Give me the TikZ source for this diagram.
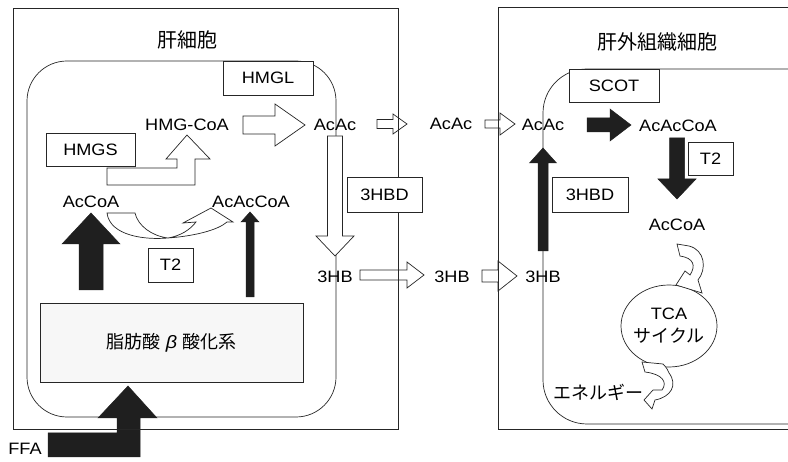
\documentclass[tikz,border=0pt]{standalone}
\usepackage{fontspec}
\setmainfont{Liberation Sans}[FakeStretch=1.1]
\newfontfamily\jp{Noto Sans CJK JP}
\newcommand\hblock[7][]{%
  \draw[#1] (#3,{#2-#6}) -- (#4,{#2-#6}) -- (#4,{#2-#7}) -- (#5,#2) -- (#4,{#2+#7}) -- (#4,{#2+#6}) -- (#3,{#2+#6}) -- cycle;}
\newcommand\vblock[7][]{%
  \draw[#1] ({#2-#6},#3) -- ({#2-#6},#4) -- ({#2-#7},#4) -- (#2,#5) -- ({#2+#7},#4) -- ({#2+#6},#4) -- ({#2+#6},#3) -- cycle;}
\tikzset{
  ln/.style={draw=black!85, line width=0.7pt},
  hollowarr/.style={draw=black!85, fill=white, line width=0.7pt, line join=miter},
  blkarr/.style={draw=black!88, fill=black!88, line width=0.5pt, line join=miter},
  lbl/.style={inner sep=0pt, font=\fontsize{16.5}{18}\selectfont},
  jplbl/.style={inner sep=0pt, font=\jp\fontsize{18}{20}\selectfont},
  titl/.style={inner sep=0pt, font=\jp\fontsize{20}{22}\selectfont},
  boxn/.style={draw=black!85, fill=white, line width=0.7pt, inner sep=0pt, font=\fontsize{16.5}{18}\selectfont},
}
\begin{document}
\begin{tikzpicture}[x=1pt,y=-1pt]
\useasboundingbox (0,0) rectangle (788,462);
\clip (0,0) rectangle (788,462);
\fill[white] (0,0) rectangle (788,462);
% membranes
\draw[ln, rounded corners=40pt] (27,61) rectangle (336,417);
\draw[ln, rounded corners=44pt] (543,69) rectangle (830,424);
% TCA circle
\draw[ln] (669,326) ellipse [x radius=48, y radius=41];
% hollow arrows
\hblock[hollowarr]{125}{243}{275}{305}{9}{21}
\hblock[hollowarr]{124}{377}{393}{407}{4.5}{10}
\hblock[hollowarr]{124}{485}{500}{515}{4}{11}
\hblock[hollowarr]{275}{360}{407}{424}{5}{13}
\hblock[hollowarr]{276}{482}{498}{517}{6}{15}
\vblock[hollowarr]{335}{136}{236}{256}{7.5}{19}
\draw[hollowarr] (107,168) -- (177,168) -- (177,159) -- (166,159) -- (187,135) -- (210,159) -- (195,159) -- (195,185) -- (107,185) -- cycle;
% twisted curved arrow AcCoA -> AcAcCoA
\draw[hollowarr] (107,213) .. controls (110,236) and (145,240) .. (168,238)
  .. controls (195,236) and (218,230) .. (227,222) -- (233,222) -- (211,208) -- (183,223) -- (196,222)
  .. controls (190,230) and (180,236) .. (168,238) .. controls (152,236) and (138,226) .. (135,213) -- cycle;
% TCA in-arrow
\draw[hollowarr] (677,244) -- (689,246) .. controls (705,250) and (707,269) .. (698,280)
  -- (702,293) -- (676,285) -- (685,271) -- (690,275) .. controls (696,266) and (694,258) .. (680,256) -- cycle;
% energy arrow
\draw[hollowarr] (642,362) -- (645,372) .. controls (662,374) and (668,382) .. (662,390)
  -- (653,390) -- (644,400) -- (652,409) -- (655,400) .. controls (671,397) and (678,385) .. (669,373)
  .. controls (667,368) and (665,366) .. (663,364) -- cycle;
% black arrows
\hblock[blkarr]{125}{587}{610}{631}{7}{16}
\vblock[blkarr]{677}{138}{179}{199}{7.5}{19}
\vblock[blkarr]{543}{251}{163}{148}{5}{13.5}
\vblock[blkarr]{91}{290}{244}{213}{12}{29}
\vblock[blkarr]{250}{297}{222}{212}{4}{9}
\draw[blkarr] (48,433) -- (117,433) -- (117,418) -- (98,418) -- (128,386) -- (157,418) -- (140,418) -- (140,457) -- (48,457) -- cycle;
% outer cells
\draw[ln] (13,8) rectangle (398,429);
\draw[ln] (830,7) -- (498,7) -- (498,429) -- (830,429);
% boxes
\node[boxn, minimum width=90pt, minimum height=34pt] (hmgl) at (268,78) {HMGL};
\node[boxn, minimum width=89pt, minimum height=33pt] (hmgs) at (90.5,149.5) {HMGS};
\node[boxn, minimum width=45pt, minimum height=34pt] (t2a) at (170.5,265) {T2};
\node[boxn, minimum width=75pt, minimum height=35pt] (hbda) at (384.5,194.5) {3HBD};
\node[boxn, minimum width=90pt, minimum height=33pt] (scot) at (614,85.5) {SCOT};
\node[boxn, minimum width=45pt, minimum height=33pt] (t2b) at (710.5,158.5) {T2};
\node[boxn, minimum width=76pt, minimum height=35pt] (hbdb) at (590,194.5) {3HBD};
\node[draw=black!85, fill=black!3, line width=0.7pt, inner sep=0pt, minimum width=263pt, minimum height=79pt, font=\jp\fontsize{18}{20}\selectfont] (beta) at (171.5,342.5) {脂肪酸\hspace{5pt}{\rmfamily\itshape β}\hspace{5pt}酸化系};
% titles
\node[titl] (liver) at (187,40) {肝細胞};
\node[titl] (extra) at (657,42) {肝外組織細胞};
% labels
\node[lbl] (hmgcoa) at (187,125) {HMG-CoA};
\node[lbl] (acac1) at (335,125) {AcAc};
\node[lbl] (acac2) at (451,124) {AcAc};
\node[lbl] (acac3) at (543,125) {AcAc};
\node[lbl] (accoa1) at (91,202) {AcCoA};
\node[lbl] (acaccoa1) at (251,202) {AcAcCoA};
\node[lbl] (hb1) at (335,277) {3HB};
\node[lbl] (hb2) at (452,277) {3HB};
\node[lbl] (hb3) at (543,277) {3HB};
\node[lbl] (acaccoa2) at (678,126) {AcAcCoA};
\node[lbl] (accoa2) at (677,225) {AcCoA};
\node[lbl] (tca) at (669,314) {TCA};
\node[jplbl] (cycle) at (669,336) {サイクル};
\node[jplbl] (energy) at (598,392) {エネルギー};
\node[lbl] (ffa) at (25,449) {FFA};
\end{tikzpicture}
\end{document}
